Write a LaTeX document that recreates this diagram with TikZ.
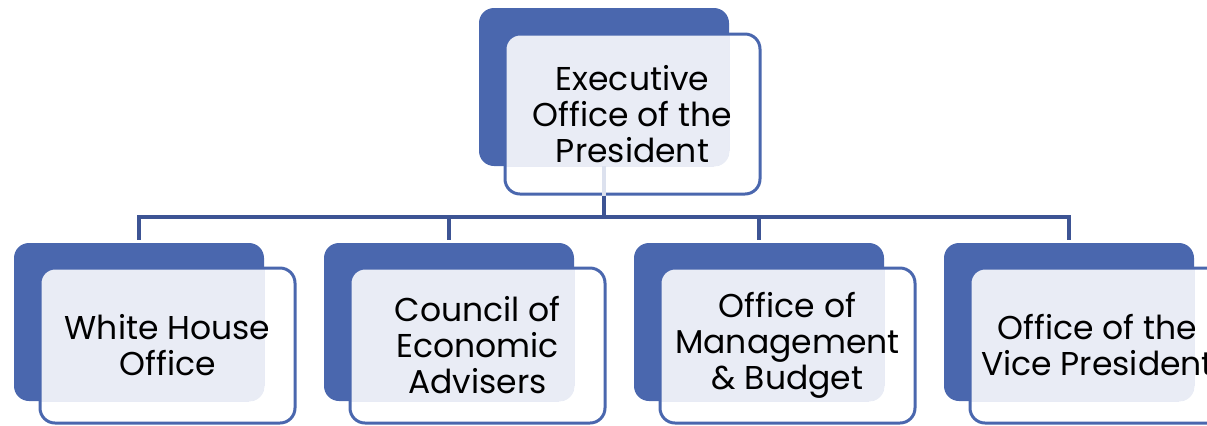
\documentclass[tikz,border=0pt]{standalone}
\usepackage{fontspec}
\setmainfont{Poppins}
\usepackage{xcolor}
\usepackage{tikz}

\definecolor{boxblue}{HTML}{4A67AE}
\definecolor{linkblue}{HTML}{3D5494}
\definecolor{paleblue}{HTML}{E9ECF5}
\definecolor{faintline}{HTML}{DCE1EE}

\begin{document}
\begin{tikzpicture}[x=0.5pt,y=-0.5pt]

	\tikzstyle{back} = [fill=boxblue,rounded corners=7.5pt,minimum width=125pt,minimum height=79pt,inner sep=0pt]
	\tikzstyle{front} = [draw=boxblue,line width=1.5pt,rounded corners=7.5pt,minimum width=127.5pt,inner sep=0pt,align=center,font=\fontsize{16.5}{18}\selectfont]
	\tikzstyle{link} = [draw=linkblue,line width=1.7pt]

	\useasboundingbox (0,0) rectangle (1207,425);

	% top box
	\node[back] (eopback) at (604,87) {};
	\begin{scope}
		\clip[rounded corners=7.5pt] (eopback.north west) rectangle (eopback.south east);
		\fill[paleblue,rounded corners=7.5pt] (505,34) rectangle (760,194);
	\end{scope}
	\node[front,minimum height=80pt] (eop) at (632.5,114) {Executive\\Office of the\\President};

	% lower boxes, dark part
	\node[back] (whoback) at (139,322) {};
	\node[back] (ceaback) at (449,322) {};
	\node[back] (ombback) at (759,322) {};
	\node[back] (ovpback) at (1069,322) {};

	% pale part where front and back overlap
	\begin{scope}
		\clip[rounded corners=7.5pt] (whoback.north west) rectangle (whoback.south east);
		\fill[paleblue,rounded corners=7.5pt] (40,268) rectangle (295,423);
	\end{scope}
	\begin{scope}
		\clip[rounded corners=7.5pt] (ceaback.north west) rectangle (ceaback.south east);
		\fill[paleblue,rounded corners=7.5pt] (350,268) rectangle (605,423);
	\end{scope}
	\begin{scope}
		\clip[rounded corners=7.5pt] (ombback.north west) rectangle (ombback.south east);
		\fill[paleblue,rounded corners=7.5pt] (660,268) rectangle (915,423);
	\end{scope}
	\begin{scope}
		\clip[rounded corners=7.5pt] (ovpback.north west) rectangle (ovpback.south east);
		\fill[paleblue,rounded corners=7.5pt] (970,268) rectangle (1225,423);
	\end{scope}

	\node[front,minimum height=77.5pt] (who) at (167.5,345.5) {White House\\Office};
	\node[front,minimum height=77.5pt] (cea) at (477.5,345.5) {Council of\\Economic\\Advisers};
	\node[front,minimum height=77.5pt] (omb) at (787.5,345.5) {Office of\\Management\\\& Budget};
	\node[front,minimum height=77.5pt] (ovp) at (1097.5,345.5) {Office of the\\Vice President};

	% connectors
	\coordinate (bar) at (604,217);
	\draw[faintline,line width=1.7pt] (eopback.south) -- (eopback.south |- eop.south);
	\draw[link] (eopback.south |- eop.south) -- (bar);
	\draw[link,shorten >=1.5pt] (bar) -| (whoback.north);
	\draw[link,shorten >=1.5pt] (bar) -| (ceaback.north);
	\draw[link,shorten >=1.5pt] (bar) -| (ombback.north);
	\draw[link,shorten >=1.5pt] (bar) -| (ovpback.north);

\end{tikzpicture}
\end{document}
